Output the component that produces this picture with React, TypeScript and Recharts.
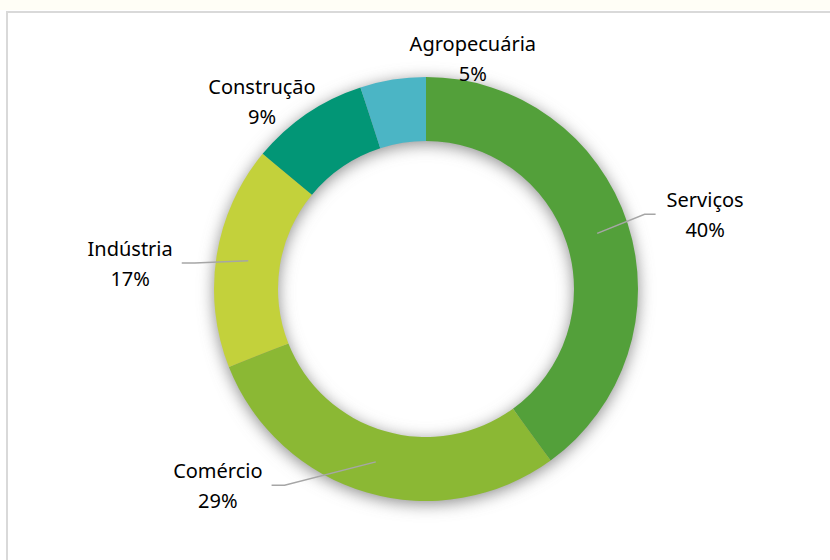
import { Cell, Pie, PieChart } from 'recharts';

const sectors = ['Serviços', 'Comércio', 'Indústria', 'Construção', 'Agropecuária'];
const shares = [40, 29, 17, 9, 5];
const sliceColors = ['#53a03a', '#8bb834', '#c3d13b', '#029676', '#4bb5c5'];

// label placement nudges (degrees off the slice middle, px beyond the outer edge)
const labelAngleShift = [-3, -30.5, 4, 7, -20.5];
const labelRadiusExtra = [77, 74, 85, 37, 23];
const labelHasLeader = [true, true, true, false, false];

const data = sectors.map((name, i) => ({ name, value: shares[i] }));
const totalData = [{ name: 'total', value: shares.reduce((a, b) => a + b, 0) }];

const FONT = '"Noto Sans", sans-serif';
const FONT_SIZE = 20;
const RAD = Math.PI / 180;

let ctx: CanvasRenderingContext2D | null = null;
function textWidth(s: string) {
  if (!ctx) ctx = document.createElement('canvas').getContext('2d');
  if (!ctx) return s.length * 10;
  ctx.font = `${FONT_SIZE}px "Noto Sans"`;
  return ctx.measureText(s).width;
}

function polar(cx: number, cy: number, r: number, angle: number) {
  return { x: cx + r * Math.cos(-angle * RAD), y: cy + r * Math.sin(-angle * RAD) };
}

function renderLabel(props: any) {
  const { cx, cy, midAngle, innerRadius, outerRadius, index, name, percent } = props;
  const pos = polar(cx, cy, outerRadius + labelRadiusExtra[index], midAngle + labelAngleShift[index]);
  let leader = null;
  if (labelHasLeader[index]) {
    const start = polar(cx, cy, (innerRadius + outerRadius) / 2, midAngle);
    const half = textWidth(name) / 2;
    const right = pos.x > cx;
    const endX = right ? pos.x - half - 11 : pos.x + half + 9;
    const elbowX = right ? endX - 11 : endX + 13;
    leader = (
      <polyline
        points={`${start.x},${start.y} ${elbowX},${pos.y} ${endX},${pos.y}`}
        fill="none"
        stroke="#a6a6a6"
        strokeWidth={1.5}
      />
    );
  }
  return (
    <g key={`lbl-${index}`}>
      {leader}
      <text x={pos.x} y={pos.y - 15} textAnchor="middle" dominantBaseline="central" fill="#000" fontSize={FONT_SIZE} fontFamily={FONT}>
        {name}
      </text>
      <text x={pos.x} y={pos.y + 15} textAnchor="middle" dominantBaseline="central" fill="#000" fontSize={FONT_SIZE} fontFamily={FONT}>
        {`${Math.round(percent * 100)}%`}
      </text>
    </g>
  );
}

export default function App() {
  return (
    <div style={{ position: 'relative', width: 830, height: 560, background: '#fff', overflow: 'hidden' }}>
      <style>{'body{margin:0}'}</style>
      <div style={{ position: 'absolute', left: 0, top: 0, width: 830, height: 10, background: '#fffef6' }} />
      <div
        style={{
          position: 'absolute',
          left: 6,
          top: 11,
          width: 840,
          height: 560,
          border: '2px solid #d9d9d9',
          boxSizing: 'border-box',
        }}
      />
      <div style={{ position: 'absolute', left: 0, top: 0 }}>
        <PieChart width={830} height={560} margin={{ top: 0, right: 0, bottom: 0, left: 0 }}>
          <defs>
            <filter id="ringBlur" x="-30%" y="-30%" width="160%" height="160%">
              <feGaussianBlur stdDeviation="8" />
            </filter>
          </defs>
          {/* soft shadow under the ring */}
          <Pie
            data={totalData}
            dataKey="value"
            cx={426}
            cy={292}
            innerRadius={148}
            outerRadius={212}
            startAngle={90}
            endAngle={-270}
            fill="#8c8c8c"
            stroke="none"
            style={{ filter: 'url(#ringBlur)' }}
            isAnimationActive={false}
          />
          <Pie
            data={data}
            dataKey="value"
            nameKey="name"
            cx={426}
            cy={289}
            innerRadius={148}
            outerRadius={212}
            startAngle={90}
            endAngle={-270}
            stroke="none"
            label={renderLabel}
            labelLine={false}
            isAnimationActive={false}
          >
            {data.map((entry, i) => (
              <Cell key={entry.name} fill={sliceColors[i]} />
            ))}
          </Pie>
        </PieChart>
      </div>
    </div>
  );
}
